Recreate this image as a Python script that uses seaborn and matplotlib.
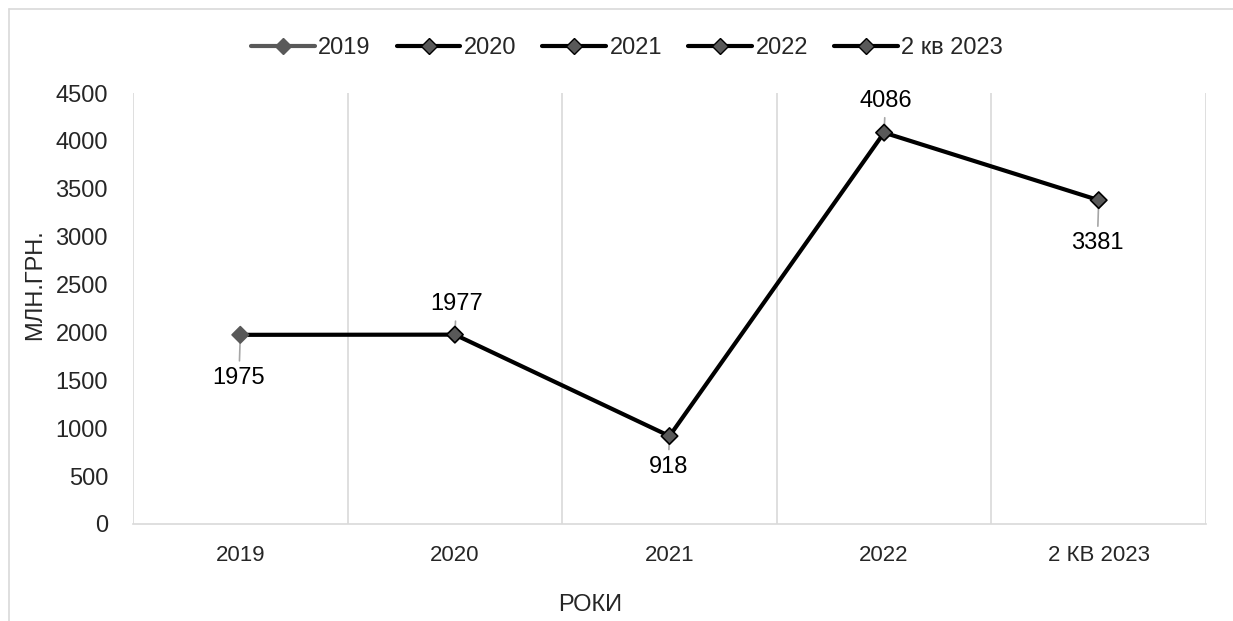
import matplotlib
matplotlib.use('Agg')
from matplotlib import pyplot as plt
from matplotlib.lines import Line2D
import pandas as pd
import seaborn as sns

## Data
years = ['2019', '2020', '2021', '2022', '2 КВ 2023']
legend_labels = ['2019', '2020', '2021', '2022', '2 кв 2023']
values = [1975, 1977, 918, 4086, 3381]
label_offsets = [-31, 22, -22, 23, -31]   # points, label above/below the marker

df = pd.DataFrame({'year': years, 'value': values})

sns.set_style('white')
plt.rcParams['font.family'] = ['Liberation Sans', 'DejaVu Sans']

fig = plt.figure(figsize=(12.33, 6.21), dpi=100)
ax = fig.add_axes([133 / 1233, 1 - 524 / 621, (1206 - 133) / 1233, (524 - 93) / 621])

## outer chart frame (top and left edges visible)
fig.add_artist(Line2D([9 / 1233, 1], [1 - 9 / 621, 1 - 9 / 621], color='#d9d9d9', lw=1.2))
fig.add_artist(Line2D([9 / 1233, 9 / 1233], [0, 1 - 9 / 621], color='#d9d9d9', lw=1.2))

## line + markers
sns.lineplot(data=df, x='year', y='value', color='black', linewidth=3.0, sort=False, ax=ax, zorder=3)
edge_cols = ['#595959'] + ['black'] * 4
sns.scatterplot(data=df, x='year', y='value', marker='D', s=70, color='#595959',
                edgecolor=edge_cols, linewidth=1.2, ax=ax, zorder=4)

## data labels with leader lines
for i, (v, off) in enumerate(zip(values, label_offsets)):
    ax.annotate(str(v), xy=(i, v), xytext=(-1 if off < 0 else 1, off), textcoords='offset points',
                ha='center', va='center', fontsize=17, color='black',
                arrowprops=dict(arrowstyle='-', color='#a6a6a6', lw=1.2, shrinkA=2, shrinkB=0))

ax.set_xlim(-0.5, 4.5)
ax.set_ylim(0, 4500)
ax.set_yticks(range(0, 4501, 500))
ax.set_xticks(range(len(years)))
ax.set_xticklabels(years)

## vertical gridlines at category boundaries
for b in [x - 0.5 for x in range(len(years) + 1)]:
    ax.axvline(b, color='#d9d9d9', lw=1.2, zorder=1)

for side in ['top', 'right', 'left']:
    ax.spines[side].set_visible(False)
ax.spines['bottom'].set_color('#d9d9d9')
ax.spines['bottom'].set_linewidth(1.2)

ax.tick_params(axis='y', length=0, pad=18, labelsize=17)
ax.tick_params(axis='x', length=0, pad=15, labelsize=16)
ax.set_xlabel('')
ax.set_ylabel('')

fig.text(35 / 1233, 1 - 285 / 621, 'МЛН.ГРН.', rotation=90, ha='center', va='center', fontsize=17)
fig.text(590 / 1233, 1 - 605 / 621, 'РОКИ', ha='center', va='center', fontsize=17)

## legend
handles = [Line2D([0], [0], color='#595959', lw=3.0, marker='D', markersize=8,
                  markerfacecolor='#595959', markeredgecolor='#595959')]
handles += [Line2D([0], [0], color='black', lw=3.0, marker='D', markersize=8,
                   markerfacecolor='#595959', markeredgecolor='black') for _ in range(4)]
fig.legend(handles, legend_labels, loc='center', bbox_to_anchor=(627 / 1233, 1 - 48 / 621),
           ncol=5, frameon=False, fontsize=17, handlelength=2.7, handletextpad=0.15,
           columnspacing=1.1)

fig.savefig('out.png', dpi=100)
